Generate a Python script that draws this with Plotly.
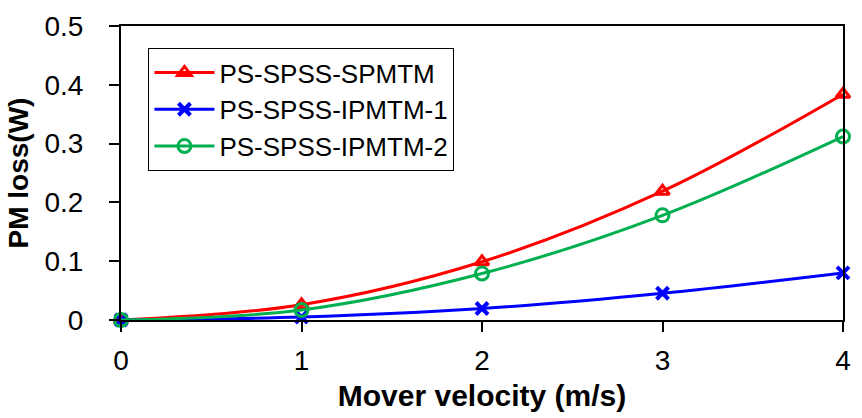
import plotly.graph_objects as go

velocity = [0, 1, 2, 3, 4]
spmtm = [0.0, 0.026, 0.099, 0.219, 0.384]
ipmtm1 = [0.0, 0.005, 0.0195, 0.0455, 0.080]
ipmtm2 = [0.0, 0.017, 0.079, 0.178, 0.312]

series = [
    ("PS-SPSS-SPMTM", spmtm, "#FF0000", "triangle-up-open", 12, 3),
    ("PS-SPSS-IPMTM-1", ipmtm1, "#0000FF", "x-thin", 12, 4),
    ("PS-SPSS-IPMTM-2", ipmtm2, "#00B050", "circle-open", 13, 3),
]

fig = go.Figure()
for name, vals, color, sym, size, lw in series:
    fig.add_trace(go.Scatter(
        x=velocity, y=vals, name=name, mode="lines+markers",
        line=dict(color=color, width=3, shape="spline"),
        marker=dict(symbol=sym, size=size, color=color, line=dict(color=color, width=lw)),
        cliponaxis=False,
    ))

font = "Liberation Sans, Arial, sans-serif"
fig.update_layout(
    width=862, height=418,
    margin=dict(l=121, r=11, t=20, b=98),
    paper_bgcolor="white", plot_bgcolor="white",
    font=dict(family=font, size=28, color="black"),
    showlegend=True,
    legend=dict(
        x=0.038, y=0.925, xanchor="left", yanchor="top",
        bordercolor="black", borderwidth=1, bgcolor="white",
        font=dict(size=26, family=font), tracegroupgap=0,
        itemwidth=60,
    ),
    xaxis=dict(
        range=[0, 4], dtick=1, showgrid=False, zeroline=False,
        showline=True, linecolor="black", linewidth=2, mirror=True,
        ticks="outside", ticklen=10, tickcolor="black", tickwidth=2,
        ticklabelstandoff=4,
        title=dict(text="<b>Mover velocity (m/s)</b>", font=dict(size=30), standoff=10),
    ),
    yaxis=dict(
        range=[0, 0.5], dtick=0.1, showgrid=False, zeroline=False,
        showline=True, linecolor="black", linewidth=2, mirror=True,
        ticks="outside", ticklen=10, tickcolor="black", tickwidth=2,
        ticklabelstandoff=20,
        title=dict(text="<b>PM loss(W)</b>", font=dict(size=28), standoff=8),
    ),
)

fig.write_html("out.html")
